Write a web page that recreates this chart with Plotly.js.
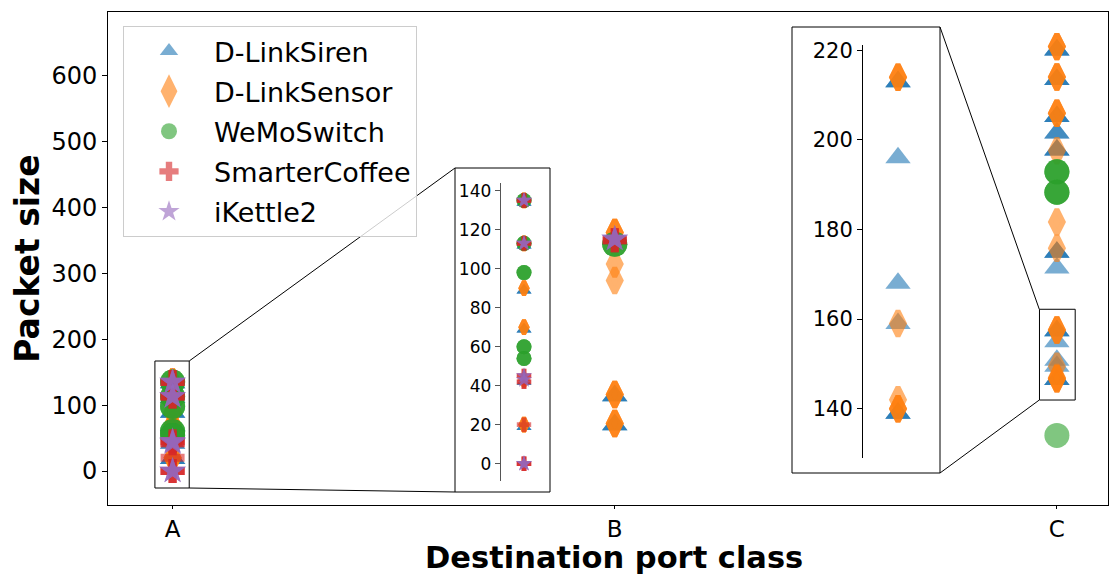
<!DOCTYPE html>
<html>
<head>
<meta charset="utf-8">
<script src="https://cdn.plot.ly/plotly-3.0.1.min.js"></script>
<style>
  html, body { margin: 0; padding: 0; background: #fff; }
  #chart { width: 1112px; height: 576px; }
</style>
</head>
<body>
<div id="chart"></div>
<script>
// Destination port classes on the x axis
const classes = ['A', 'B', 'C'];

// Packets per device: port class, packet size, number of packets with that size
const sirenClass = ['A','A','A','A','A','A','B','B','B','C','C','C','C','C','C','C','C','C','C','C','C'];
const sirenSize  = [134,112,89,69,42,19,352,114,70,639,594,538,513,487,332,308,213,196,168,159,139];
const sirenCount = [3,3,3,3,2,3,3,3,3,3,3,3,2,3,3,1,3,1,1,1,3];

const sensorClass = ['A','A','A','A','A','A','B','B','B','B','B','C','C','C','C','C','C','C','C','C','C'];
const sensorSize  = [135,113,90,70,43,20,362,314,289,116,72,644,598,543,486,378,338,214,159,142,140];
const sensorCount = [3,3,3,3,2,3,3,1,1,3,3,3,3,3,1,1,1,3,1,1,3];

const wemoClass = ['A','A','A','A','A','B','C','C','C'];
const wemoSize  = [135,113,98,60,54,344,454,423,54];
const wemoCount = [3,3,3,3,3,3,3,3,1];

const coffeeClass = ['A','A','A','A','A','A','B'];
const coffeeSize  = [135,113,45,42,20,0,350];
const coffeeCount = [3,3,2,2,1,3,3];

const kettleClass = ['A','A','A','A','A','B'];
const kettleSize  = [135,113,45,43,0,352];
const kettleCount = [3,3,2,2,3,3];

const deviceNames = ['D-LinkSiren', 'D-LinkSensor', 'WeMoSwitch', 'SmarterCoffee', 'iKettle2'];

// y-limits of the two zoomed views
const zoomALimits = [-8.87, 143.95];
const zoomCLimits = [129.0, 221.18];

// ---------- page geometry (pixels) ----------
const W = 1112, H = 576;
const px = v => v / W;
const py = v => 1 - v / H;

const colors = ['#1f77b4', '#ff7f0e', '#2ca02c', '#d62728', '#9467bd'];
const symbols = ['triangle-up', 'diamond-tall', 'circle', 'cross', 'star'];
const mainSize = [22, 18, 25, 20, 20];
const smallSize = [13, 10, 15, 12, 12];
const lineW = [0, 5, 0, 0, 0];
const smallLineW = [0, 4, 0, 0, 0];

const series = [
  [sirenClass, sirenSize, sirenCount],
  [sensorClass, sensorSize, sensorCount],
  [wemoClass, wemoSize, wemoCount],
  [coffeeClass, coffeeSize, coffeeCount],
  [kettleClass, kettleSize, kettleCount]
];

// repeat each (class, size) entry once per packet, optionally filtered
function expand(cls, size, count, keep) {
  const x = [], y = [];
  for (let i = 0; i < cls.length; i++) {
    if (keep && !keep(cls[i], size[i])) continue;
    for (let k = 0; k < count[i]; k++) { x.push(cls[i]); y.push(size[i]); }
  }
  return { x, y };
}

const traces = [];
series.forEach((s, i) => {
  const d = expand(s[0], s[1], s[2]);
  traces.push({
    type: 'scatter', mode: 'markers', name: deviceNames[i], legendgroup: deviceNames[i],
    x: d.x, y: d.y, xaxis: 'x', yaxis: 'y', cliponaxis: false,
    marker: { symbol: symbols[i], size: mainSize[i], color: colors[i], opacity: 0.6,
              line: { width: lineW[i], color: colors[i] } },
    hoverinfo: 'skip'
  });
});
series.forEach((s, i) => {
  const d = expand(s[0], s[1], s[2], (c, v) => c === 'A');
  traces.push({
    type: 'scatter', mode: 'markers', name: deviceNames[i], legendgroup: deviceNames[i], showlegend: false,
    x: d.x, y: d.y, xaxis: 'x2', yaxis: 'y2',
    marker: { symbol: symbols[i], size: smallSize[i], color: colors[i], opacity: 0.6,
              line: { width: smallLineW[i], color: colors[i] } },
    hoverinfo: 'skip'
  });
});
series.forEach((s, i) => {
  const d = expand(s[0], s[1], s[2], (c, v) => c === 'C' && v >= zoomCLimits[0] && v <= zoomCLimits[1]);
  traces.push({
    type: 'scatter', mode: 'markers', name: deviceNames[i], legendgroup: deviceNames[i], showlegend: false,
    x: d.x, y: d.y, xaxis: 'x3', yaxis: 'y3',
    marker: { symbol: symbols[i], size: mainSize[i], color: colors[i], opacity: 0.6,
              line: { width: lineW[i], color: colors[i] } },
    hoverinfo: 'skip'
  });
});

const frame = { color: '#000', width: 1 };

const layout = {
  width: W, height: H,
  margin: { l: 0, r: 0, t: 0, b: 0 },
  paper_bgcolor: '#ffffff', plot_bgcolor: 'rgba(0,0,0,0)',
  font: { family: 'DejaVu Sans', color: '#000' },
  showlegend: true,
  legend: {
    x: px(123), y: py(26), xanchor: 'left', yanchor: 'top',
    bgcolor: 'rgba(255,255,255,0.8)', bordercolor: '#cccccc', borderwidth: 1,
    font: { size: 27, family: 'DejaVu Sans' }, itemwidth: 80, tracegroupgap: 2
  },
  xaxis: {
    domain: [px(108), px(1108)], anchor: 'y',
    type: 'category', categoryorder: 'array', categoryarray: classes,
    range: [-0.1461, 2.1156],
    showline: true, mirror: true, linecolor: '#000', linewidth: 1,
    ticks: 'outside', ticklen: 3, tickcolor: '#000',
    tickfont: { size: 23 }, showgrid: false, zeroline: false
  },
  yaxis: {
    domain: [py(505), py(12)], anchor: 'x',
    range: [-51.6, 696.5], tick0: 0, dtick: 100,
    showline: true, mirror: true, linecolor: '#000', linewidth: 1,
    ticks: 'outside', ticklen: 5, tickcolor: '#000',
    tickfont: { size: 24 }, showgrid: false, zeroline: false,
    title: { text: 'Packet size', font: { size: 33, weight: 'bold' }, standoff: 1 }
  },
  xaxis2: {
    domain: [px(500.7), px(547.3)], anchor: 'y2',
    type: 'category', range: [-1, 1], visible: false
  },
  yaxis2: {
    domain: [py(481), py(183)], anchor: 'x2',
    range: zoomALimits, tick0: 0, dtick: 20,
    showline: true, linecolor: '#555', linewidth: 1,
    ticks: 'outside', ticklen: 5, tickcolor: '#555',
    tickfont: { size: 17 }, showgrid: false, zeroline: false
  },
  xaxis3: {
    domain: [px(863), px(933)], anchor: 'y3',
    type: 'category', range: [-1, 1], visible: false
  },
  yaxis3: {
    domain: [py(458), py(45)], anchor: 'x3',
    range: zoomCLimits, tick0: 0, dtick: 20,
    showline: true, linecolor: '#000', linewidth: 1,
    ticks: 'outside', ticklen: 5, tickcolor: '#000',
    tickfont: { size: 21 }, showgrid: false, zeroline: false
  },
  annotations: [
    { text: 'Destination port class', xref: 'paper', yref: 'paper',
      x: px(614), y: 0, xanchor: 'center', yanchor: 'bottom', showarrow: false,
      borderpad: 0, font: { size: 30.5, weight: 'bold' } }
  ],
  shapes: [
    // zoom regions in the main axes
    { type: 'rect', xref: 'x', yref: 'y', x0: -0.040, x1: 0.0376, y0: -25.8, y1: 166.9, line: frame },
    { type: 'rect', xref: 'x', yref: 'y', x0: 1.9606, x1: 2.0414, y0: 107.7, y1: 245.4, line: frame },
    // frames of the zoomed views
    { type: 'rect', xref: 'paper', yref: 'paper', x0: px(455), x1: px(550), y0: py(492), y1: py(168), line: frame },
    { type: 'rect', xref: 'paper', yref: 'paper', x0: px(792), x1: px(940), y0: py(473), y1: py(27), line: frame },
    // connectors
    { type: 'line', xref: 'paper', yref: 'paper', x0: px(189.2), y0: py(361), x1: px(455), y1: py(168), line: frame },
    { type: 'line', xref: 'paper', yref: 'paper', x0: px(189.2), y0: py(488), x1: px(455), y1: py(492), line: frame },
    { type: 'line', xref: 'paper', yref: 'paper', x0: px(1039.3), y0: py(309.3), x1: px(940), y1: py(27), line: frame },
    { type: 'line', xref: 'paper', yref: 'paper', x0: px(1039.3), y0: py(400), x1: px(940), y1: py(473), line: frame }
  ]
};

Plotly.newPlot('chart', traces, layout, { staticPlot: true, displayModeBar: false });
</script>
</body>
</html>
